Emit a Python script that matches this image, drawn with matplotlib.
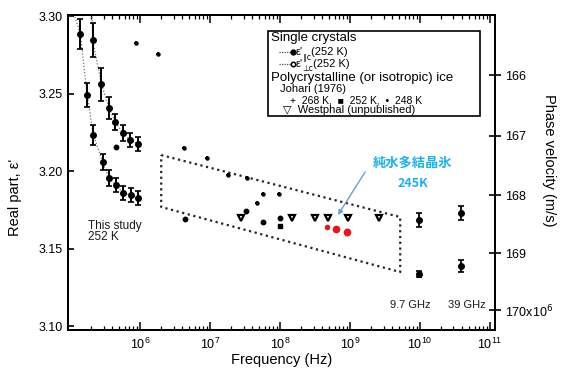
import matplotlib
matplotlib.use("Agg")
import matplotlib.pyplot as plt
import numpy as np
from matplotlib.lines import Line2D
from matplotlib.patches import Rectangle

plt.rcParams['font.family'] = ['Liberation Sans', 'DejaVu Sans']
plt.rcParams['mathtext.fontset'] = 'dejavusans'

# this study, single crystals 252 K
par_f = [2.1e5, 2.8e5, 3.6e5, 4.4e5, 5.7e5, 7.2e5, 9.4e5]
par_eps = [3.2845, 3.256, 3.2406, 3.2316, 3.2245, 3.220, 3.2174]
par_err = [0.011, 0.0105, 0.007, 0.005, 0.005, 0.0045, 0.0045]
perp_f = [1.4e5, 1.75e5, 2.15e5, 2.9e5, 3.6e5, 4.5e5, 5.7e5, 7.4e5, 9.4e5]
perp_eps = [3.2884, 3.249, 3.2232, 3.2058, 3.1955, 3.191, 3.1858, 3.1845, 3.1826]
perp_err = [0.0097, 0.0077, 0.0065, 0.005, 0.005, 0.0045, 0.0045, 0.0045, 0.0045]
# dotted guide curves
par_curve_f = [2.05e5] + par_f
par_curve_eps = [3.2995] + par_eps
perp_curve_f = [1.17e5] + perp_f
perp_curve_eps = [3.2995] + perp_eps

# Johari (1976)
j268_f = [8.8e5, 1.8e6, 4.2e6, 9.1e6, 1.8e7, 3.4e7, 4.7e7, 5.7e7, 9.7e7]
j268_eps = [3.2826, 3.2755, 3.2148, 3.2084, 3.1974, 3.1955, 3.1794, 3.1852, 3.1852]
j252_f = [9.8e7]
j252_eps = [3.1645]
j248_f = [4.5e5, 4.4e6, 3.3e7, 5.7e7, 9.8e7]
j248_eps = [3.2155, 3.169, 3.174, 3.167, 3.170]

# Westphal
west_f = [2.8e7, 1.5e8, 3.1e8, 4.9e8, 9.4e8, 2.6e9]
west_eps = [3.1697, 3.170, 3.170, 3.170, 3.170, 3.170]

# microwave points (9.7 GHz, 39 GHz)
mw_f = [9.7e9, 3.9e10]
mw_upper = [3.1684, 3.1729]
mw_upper_err = [0.0045, 0.0045]
mw_lower = [3.1335, 3.1387]
mw_lower_err = [0.002, 0.004]

# pure-water polycrystalline ice 245 K (red)
red_f = [4.6e8, 6.3e8, 9.1e8]
red_eps = [3.1639, 3.1626, 3.1606]
red_err = [0.0, 0.0015, 0.002]

# dotted parallelogram
box_f = [2.0e6, 5.2e9, 5.2e9, 2.0e6, 2.0e6]
box_eps = [3.2103, 3.1703, 3.1348, 3.1768, 3.2103]

# right axis: phase velocity
vel_ticks = [166e6, 167e6, 168e6, 169e6, 170e6]
vel_labels = ['166', '167', '168', '169', '170x10$^6$']
c_light = 2.998e8

fig = plt.figure(figsize=(5.67, 3.69), dpi=100)
ax = fig.add_axes([0.12, 0.106, 0.753, 0.853])

ax.plot(par_curve_f, par_curve_eps, ls=(0, (1, 1.5)), color='0.45', lw=0.9)
ax.plot(perp_curve_f, perp_curve_eps, ls=(0, (1, 1.5)), color='0.45', lw=0.9)
ax.errorbar(par_f, par_eps, yerr=par_err, fmt='o', ms=4, color='black',
            ecolor='black', elinewidth=1.4, capsize=2.5, capthick=1.2)
ax.errorbar(perp_f, perp_eps, yerr=perp_err, fmt='o', ms=4, color='black',
            ecolor='black', elinewidth=1.4, capsize=2.5, capthick=1.2)

ax.plot(box_f, box_eps, ls=(0, (1, 1.6)), color='0.15', lw=1.6)

ax.plot(j268_f, j268_eps, '+', ms=3.5, mew=1.4, color='black', ls='none')
ax.plot(j268_f, j268_eps, 'o', ms=2.2, color='black', ls='none')
ax.plot(j252_f, j252_eps, 's', ms=3.5, color='black', ls='none')
ax.plot(j248_f, j248_eps, 'o', ms=3.2, color='black', ls='none')
ax.plot(west_f, west_eps, 'v', ms=5, mfc='white', mec='black', mew=1.6, ls='none')

ax.errorbar(mw_f, mw_upper, yerr=mw_upper_err, fmt='o', ms=4, color='black',
            elinewidth=1.3, capsize=2.5, capthick=1.2)
ax.errorbar(mw_f, mw_lower, yerr=mw_lower_err, fmt='o', ms=4, color='black',
            elinewidth=1.3, capsize=2.5, capthick=1.2)

ax.errorbar(red_f[1:], red_eps[1:], yerr=red_err[1:], fmt='o', ms=4.5, color='#e8131b',
            ecolor='#e8131b', elinewidth=1.0, capsize=1.5)
ax.plot(red_f[:1], red_eps[:1], 'o', ms=3, color='#e8131b')

ax.set_xscale('log')
ax.set_xlim(10 ** 4.97, 10 ** 11.07)
ax.set_ylim(3.0975, 3.3006)
ax.set_yticks([3.10, 3.15, 3.20, 3.25, 3.30])
ax.set_yticklabels(['3.10', '3.15', '3.20', '3.25', '3.30'])
ax.set_xticks([1e6, 1e7, 1e8, 1e9, 1e10, 1e11])
ax.tick_params(axis='x', which='major', direction='in', top=True, length=6, width=1.1, labelsize=9, pad=5)
ax.tick_params(axis='x', which='minor', direction='in', top=True, length=3, width=0.9)
ax.tick_params(axis='y', which='both', direction='in', right=False, length=4, width=1.2, labelsize=9)
for s in ax.spines.values():
    s.set_linewidth(1.4)

ax.set_xlabel('Frequency (Hz)', fontsize=10.5, labelpad=1)
ax.set_ylabel("Real part, ε'", fontsize=10.5)
ax.yaxis.set_label_coords(-0.108, 0.42)

ax2 = ax.twinx()
ax2.set_ylim(ax.get_ylim())
ax2.set_yticks((c_light / np.array(vel_ticks)) ** 2)
ax2.set_yticklabels(vel_labels)
ax2.tick_params(axis='y', direction='inout', length=8, width=1.2, labelsize=9, pad=3)
for s in ax2.spines.values():
    s.set_linewidth(1.4)
ax2.set_ylabel('Phase velocity (m/s)', rotation=270, fontsize=10.5, va='center')
ax2.yaxis.set_label_coords(1.126, 0.54)

# text annotations
ax.text(1.8e5, 3.161, 'This study\n252 K', fontsize=8.5, va='center', ha='left',
        linespacing=0.95, color='0.1')
ax.text(7.2e9, 3.1135, '9.7 GHz', fontsize=8, ha='center', va='center', color='0.1')
ax.text(4.7e10, 3.1135, '39 GHz', fontsize=8, ha='center', va='center', color='0.1')

ax.text(7.9e9, 3.2055, '純水多結晶氷', fontsize=9.5, ha='center', va='center',
        color='#1db2ea', fontweight='bold', family=['Noto Sans CJK JP', 'DejaVu Sans'])
ax.text(8.0e9, 3.192, '245K', fontsize=9, ha='center', va='center',
        color='#1db2ea', fontweight='bold', family=['Noto Sans CJK JP', 'DejaVu Sans'])
ax.annotate('', xy=(6.7e8, 3.1716), xytext=(1.64e9, 3.1994),
            arrowprops=dict(arrowstyle='-|>', color='#6a9fd8', lw=1.0,
                            mutation_scale=7, shrinkA=0, shrinkB=0))

# legend box
T = ax.transAxes
ax.add_patch(Rectangle((0.468, 0.680), 0.497, 0.270, transform=T, fill=False,
                       lw=1.2, ec='black', zorder=5))
ax.text(0.476, 0.928, 'Single crystals', transform=T, fontsize=9.5, va='center')
ax.add_line(Line2D([0.493, 0.526], [0.884, 0.884], transform=T, ls=(0, (1, 1)),
                   color='0.3', lw=0.9, marker='o', markevery=[1], ms=3.5,
                   mfc='black', mec='black'))
ax.add_line(Line2D([0.493, 0.526], [0.846, 0.846], transform=T, ls=(0, (1, 1)),
                   color='0.3', lw=0.9, marker='o', markevery=[1], ms=3.2,
                   mfc='white', mec='black', mew=1.1))
for yy, sub in [(0.884, '∥c'), (0.846, '⊥c')]:
    t1 = ax.text(0.533, yy, "ε'", transform=T, fontsize=8, va='center')
    t2 = ax.annotate(sub, xy=(1, 0.0), xycoords=t1, fontsize=5.5, va='center', ha='left',
                     family=['DejaVu Sans'])
    ax.annotate('(252 K)', xy=(1, 0.5), xycoords=(t2, t1), fontsize=8, va='center', ha='left')
ax.text(0.476, 0.800, 'Polycrystalline (or isotropic) ice', transform=T, fontsize=9.5, va='center')
ax.text(0.496, 0.764, 'Johari (1976)', transform=T, fontsize=8, va='center')
ax.text(0.52, 0.730, '+  268 K,  ■  252 K,  •  248 K', transform=T, fontsize=7.5, va='center',
        family=['Liberation Sans', 'DejaVu Sans'])
ax.text(0.503, 0.698, '▽  Westphal (unpublished)', transform=T, fontsize=8, va='center',
        family=['Liberation Sans', 'DejaVu Sans'])

fig.savefig('out.png', dpi=100)
